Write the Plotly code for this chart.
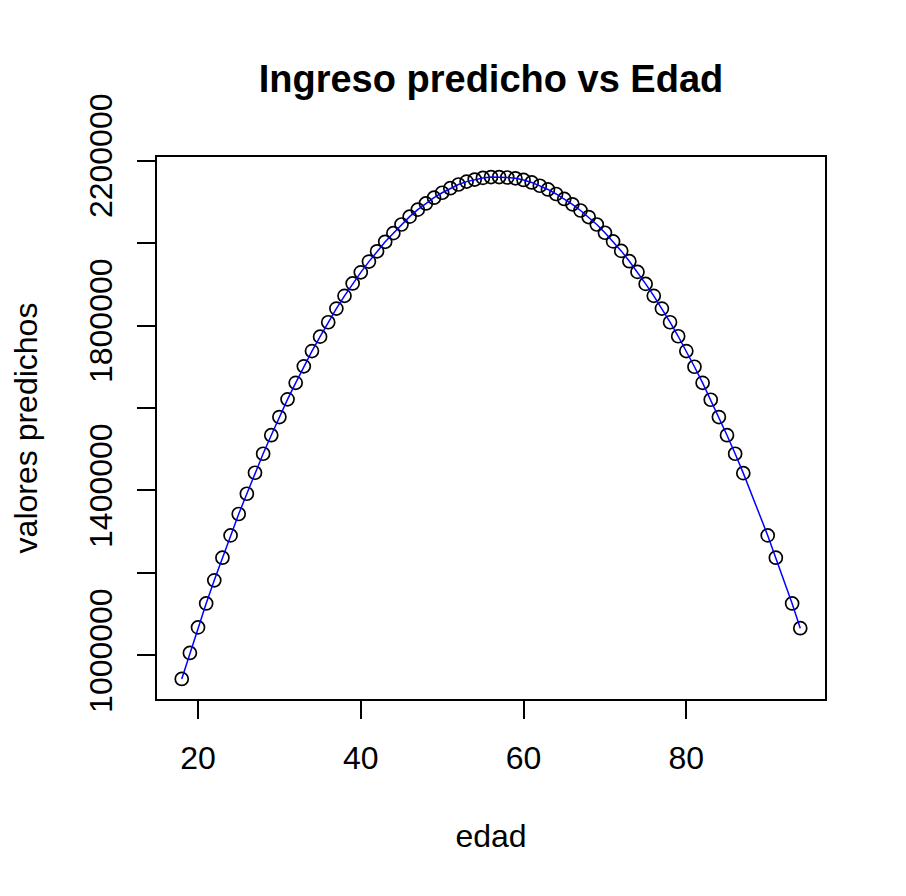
import plotly.graph_objects as go

# predicted income by age
edad = list(range(18, 88)) + [90, 91, 93, 94]
valores_predichos = [
    943000, 1006000, 1068000, 1126000, 1182000, 1237000, 1291000, 1343000,
    1392000, 1443000, 1489000, 1534000, 1578000, 1621000, 1661000, 1701000,
    1738000, 1773000, 1808000, 1841000, 1872000, 1902000, 1929000, 1955000,
    1980000, 2003000, 2024000, 2045000, 2064000, 2081000, 2096000, 2110000,
    2122000, 2133000, 2142000, 2149000, 2154000, 2158000, 2160000, 2160000,
    2159000, 2157000, 2153000, 2147000, 2139000, 2130000, 2119000, 2107000,
    2094000, 2079000, 2063000, 2045000, 2025000, 2004000, 1981000, 1956000,
    1930000, 1901000, 1872000, 1841000, 1808000, 1774000, 1738000, 1700000,
    1661000, 1620000, 1578000, 1534000, 1489000, 1442000,
    1291000, 1237000, 1126000, 1066000,
]
x_ticks = [20, 40, 60, 80]
y_ticks = [1000000, 1200000, 1400000, 1600000, 1800000, 2000000, 2200000]
# R drops labels that would overlap, so only every other one shows
y_tick_labels = ["1000000", "", "1400000", "", "1800000", "", "2200000"]

FONT = "Liberation Sans, Arial, sans-serif"

# page body adds an 8px margin, so the figure is a bit smaller than the window
W, H = 898, 888


# R-style axis padding (4% on each side)
def padded(vals, frac=0.04):
    lo, hi = min(vals), max(vals)
    d = (hi - lo) * frac
    return [lo - d, hi + d]


fig = go.Figure()

fig.add_trace(go.Scatter(
    x=edad, y=valores_predichos,
    mode="markers",
    marker=dict(symbol="circle-open", size=13, color="black",
                line=dict(width=1.7, color="black")),
    showlegend=False,
))
fig.add_trace(go.Scatter(
    x=edad, y=valores_predichos,
    mode="lines",
    line=dict(color="blue", width=1.5),
    showlegend=False,
))

axis_common = dict(
    showline=True, linecolor="black", linewidth=1.6, mirror=True,
    showgrid=False, zeroline=False,
    ticks="outside", ticklen=18, tickwidth=1.6, tickcolor="black",
    tickfont=dict(family=FONT, size=32, color="black"),
)

fig.update_xaxes(
    range=padded(edad), tickvals=x_ticks, ticklabelstandoff=12,
    title=dict(text="edad", font=dict(family=FONT, size=32, color="black"),
               standoff=49),
    **axis_common,
)
fig.update_yaxes(
    range=padded(valores_predichos), tickvals=y_ticks, ticktext=y_tick_labels,
    tickangle=-90, ticklabelstandoff=12,
    title=dict(text="valores predichos",
               font=dict(family=FONT, size=32, color="black"),
               standoff=36),
    **axis_common,
)

fig.update_layout(
    width=W, height=H,
    margin=dict(l=149, r=81, t=149, b=197),
    paper_bgcolor="white", plot_bgcolor="white",
    title=dict(text="Ingreso predicho vs Edad",
               font=dict(family=FONT, size=38, color="black", weight="bold"),
               xref="paper", x=0.5, xanchor="center",
               y=1 - 71 / H, yanchor="middle"),
)

fig.write_html("out.html")
